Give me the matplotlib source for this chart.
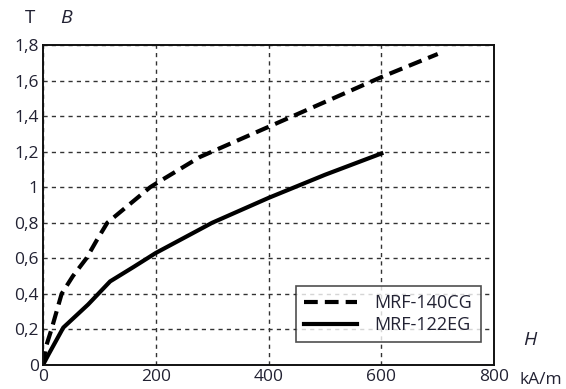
import matplotlib
matplotlib.use("Agg")
import matplotlib.pyplot as plt

h_140 = [0, 5, 15, 24, 33, 53, 77, 95, 114, 152, 190, 200, 278, 400, 500, 600, 700]
b_140 = [0, 0.1, 0.2, 0.3, 0.4, 0.5, 0.6, 0.7, 0.8, 0.9, 1.0, 1.02, 1.17, 1.34, 1.48, 1.62, 1.75]
h_122 = [0, 10, 36, 80, 119, 160, 200, 300, 400, 500, 600]
b_122 = [0, 0.06, 0.21, 0.34, 0.47, 0.55, 0.63, 0.80, 0.94, 1.07, 1.19]
x_ticks = [0, 200, 400, 600, 800]
y_ticks = [0, 0.2, 0.4, 0.6, 0.8, 1.0, 1.2, 1.4, 1.6, 1.8]
y_labels = ["0", "0,2", "0,4", "0,6", "0,8", "1", "1,2", "1,4", "1,6", "1,8"]
names = ["MRF-140CG", "MRF-122EG"]

plt.rcParams['font.family'] = ['Open Sans', 'DejaVu Sans']
txt = '#222233'
fs = 12.5
fig = plt.figure(figsize=(5.66, 3.89), dpi=100)
ax = fig.add_axes([0.076, 0.062, 0.797, 0.822])
ax.plot(h_140, b_140, color='black', lw=3, linestyle=(0, (3.3, 1.7)), label=names[0])
ax.plot(h_122, b_122, color='black', lw=3, label=names[1])
ax.set_xlim(0, 800)
ax.set_ylim(0, 1.8)
ax.set_xticks(x_ticks)
ax.set_yticks(y_ticks)
ax.set_yticklabels(y_labels)
ax.tick_params(direction='out', length=0, pad=3, labelsize=fs, colors=txt)
ax.grid(True, color='#333333', linestyle=(0, (3, 3)), lw=1)
for s in ax.spines.values():
    s.set_linewidth(1.4)
    s.set_color('#111111')
leg = ax.legend(loc='lower right', bbox_to_anchor=(0.97, 0.07), frameon=True, fancybox=False,
                edgecolor='#222222', fontsize=fs + 0.5, handlelength=2.9, handletextpad=1.0,
                borderpad=0.45, labelspacing=0.25, borderaxespad=0)
leg.get_frame().set_linewidth(1.2)
for t in leg.get_texts():
    t.set_color(txt)
fig.text(30/566, 1 - 18/389, "T", fontsize=fs + 1, color=txt, ha='center', va='center')
fig.text(66/566, 1 - 18/389, "B", fontsize=fs + 1.5, style='italic', color=txt, ha='center', va='center')
fig.text(530/566, 1 - 340/389, "H", fontsize=fs + 1.5, style='italic', color=txt, ha='center', va='center')
fig.text(541/566, 1 - 380/389, "kA/m", fontsize=fs, color=txt, ha='center', va='center')
fig.savefig("out.png", dpi=100)
